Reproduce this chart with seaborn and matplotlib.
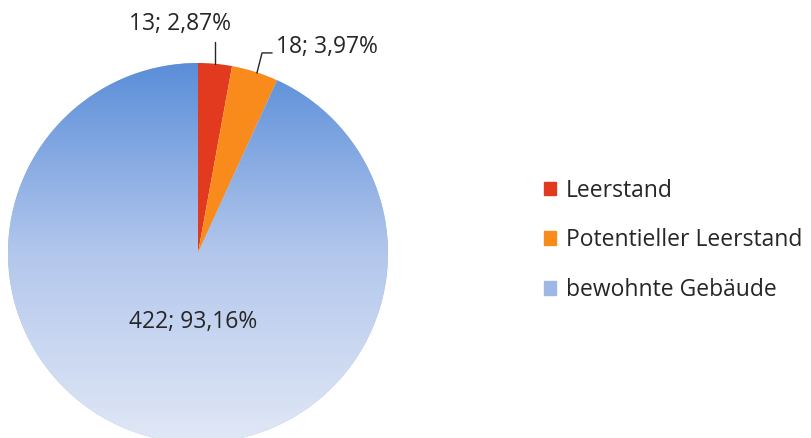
import numpy as np
import matplotlib.pyplot as plt
import matplotlib.patches as mpatches
from matplotlib.colors import LinearSegmentedColormap
import seaborn as sns

# Data
categories = ["Leerstand", "Potentieller Leerstand", "bewohnte Gebäude"]
counts = [13, 18, 422]
colors = ["#E13A1E", "#F98B1D", "#9DB8E6"]

sns.set_style("white")
plt.rcParams["font.family"] = ["Open Sans", "DejaVu Sans"]

total = sum(counts)
labels = [f"{c}; {c / total * 100:.2f}%".replace(".", ",") for c in counts]

fig = plt.figure(figsize=(8.11, 4.38), dpi=100)
# pie centered at (198, 253) px with radius 190 px
ax = fig.add_axes([8 / 811, (438 - 443) / 438, 380 / 811, 380 / 438])

wedges, _ = ax.pie(counts, colors=colors, startangle=90, counterclock=False,
                   radius=1, wedgeprops=dict(linewidth=0))

# vertical gradient on the big wedge
grad = np.linspace(0, 1, 256).reshape(-1, 1)
cmap = LinearSegmentedColormap.from_list("blu", ["#5A8ED8", "#B3C7EC", "#E1E8F6"])
img = ax.imshow(grad, cmap=cmap, extent=[-1, 1, -1, 1], origin="upper",
                aspect="auto", zorder=2)
img.set_clip_path(wedges[2])

ax.set_xlim(-1, 1)
ax.set_ylim(-1, 1)
ax.set_aspect("equal")
ax.axis("off")

fs = 16.5
ax.text(-0.095, 1.205, labels[0], ha="center", va="center", fontsize=fs, color="#262626")
ax.plot([0.089, 0.089], [1.11, 0.995], color="#262626", lw=1, clip_on=False)
ax.text(0.41, 1.084, labels[1], ha="left", va="center", fontsize=fs, color="#262626")
ax.plot([0.31, 0.337, 0.39], [0.947, 1.053, 1.053], color="#262626", lw=1, clip_on=False)
ax.text(-0.026, -0.363, labels[2], ha="center", va="center", fontsize=fs,
        color="#262626", zorder=3)

handles = [mpatches.Patch(color=c) for c in colors]
fig.legend(handles, categories, loc="upper left", bbox_to_anchor=(523 / 811, 1 - 158 / 438),
           frameon=False, fontsize=fs, handlelength=0.52, handleheight=0.52,
           handletextpad=0.45, labelspacing=1.12, labelcolor="#262626")

fig.savefig("out.png", dpi=100)
